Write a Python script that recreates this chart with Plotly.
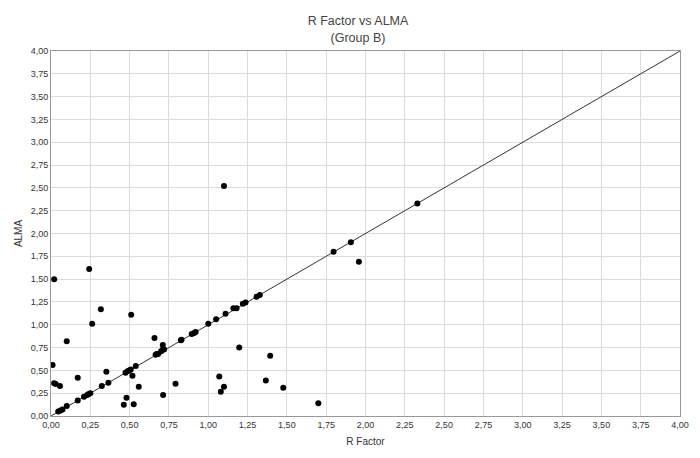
import plotly.graph_objects as go

r_factor = [0.01, 0.02, 0.02, 0.03, 0.057, 0.046, 0.06, 0.073, 0.10, 0.10, 0.17, 0.17,
            0.21, 0.23, 0.24, 0.25, 0.243, 0.262, 0.317, 0.323, 0.352, 0.365, 0.463, 0.48,
            0.474, 0.486, 0.497, 0.507, 0.51, 0.518, 0.526, 0.539, 0.558, 0.658, 0.665, 0.673,
            0.681, 0.70, 0.711, 0.719, 0.711, 0.713, 0.792, 0.826, 0.83, 0.895, 0.91, 0.92,
            1.00, 1.05, 1.07, 1.08, 1.10, 1.10, 1.11, 1.16, 1.18, 1.197, 1.22, 1.237, 1.307,
            1.328, 1.366, 1.394, 1.477, 1.70, 1.797, 1.907, 1.958, 2.33]
alma = [0.56, 1.50, 0.36, 0.35, 0.33, 0.05, 0.06, 0.07, 0.82, 0.11, 0.42, 0.17,
        0.21, 0.23, 0.24, 0.25, 1.61, 1.01, 1.17, 0.33, 0.485, 0.365, 0.124, 0.20,
        0.474, 0.49, 0.50, 0.51, 1.11, 0.44, 0.128, 0.547, 0.32, 0.854, 0.67, 0.68,
        0.68, 0.71, 0.73, 0.73, 0.777, 0.23, 0.354, 0.83, 0.835, 0.90, 0.91, 0.92,
        1.01, 1.06, 0.434, 0.266, 0.32, 2.52, 1.12, 1.18, 1.18, 0.75, 1.23, 1.245, 1.307,
        1.325, 0.39, 0.66, 0.31, 0.14, 1.80, 1.905, 1.69, 2.33]

line_x = [0, 4]
line_y = [0, 4]

fig = go.Figure()
fig.add_trace(go.Scatter(x=line_x, y=line_y, mode="lines",
                         line=dict(color="#333333", width=1), showlegend=False, hoverinfo="skip"))
fig.add_trace(go.Scatter(x=r_factor, y=alma, mode="markers",
                         marker=dict(color="black", size=6), showlegend=False))

fig.update_layout(
    width=700, height=458,
    separators=",.",
    paper_bgcolor="white", plot_bgcolor="white",
    margin=dict(l=43, r=28, t=43, b=50, autoexpand=False),
    font=dict(family="Liberation Sans, Arial, sans-serif", color="#333333"),
    title=dict(text="R Factor vs ALMA<br>(Group B)", x=0.5, xanchor="center",
               y=0.962, yanchor="top", font=dict(size=12.5, color="#444444")),
    xaxis=dict(range=[0, 4], dtick=0.25, tickformat=".2f", showgrid=True,
               gridcolor="#dcdcdc", gridwidth=1, zeroline=False,
               showline=True, linecolor="#999999", linewidth=1, mirror=True,
               ticks="", tickfont=dict(size=9, color="#333333"),
               title=dict(text="R Factor", font=dict(size=10, color="#333333"), standoff=9)),
    yaxis=dict(range=[0, 4], dtick=0.25, tickformat=".2f", showgrid=True,
               gridcolor="#dcdcdc", gridwidth=1, zeroline=False,
               showline=True, linecolor="#999999", linewidth=1, mirror=True,
               ticks="", tickfont=dict(size=9, color="#333333"),
               title=dict(text="ALMA", font=dict(size=10, color="#333333"), standoff=6)),
)

fig.write_html("out.html")
